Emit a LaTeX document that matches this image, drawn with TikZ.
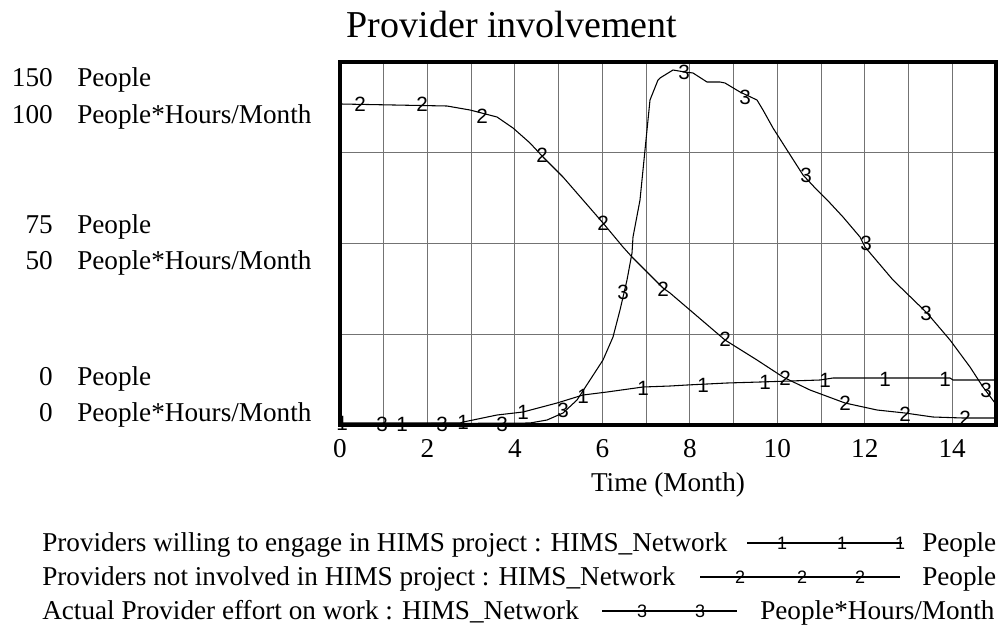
\documentclass[tikz,border=0pt]{standalone}
\usepackage{fontspec}
\setmainfont{Liberation Serif}
\newfontfamily\lblfont{Liberation Sans}
\begin{document}
\begin{tikzpicture}[x=0.75pt,y=-0.75pt,
  axtext/.style={font=\fontsize{20.4}{24}\selectfont, inner sep=0pt},
  curve/.style={line width=0.8pt, line join=round},
  gridline/.style={draw=black!55, line width=0.75pt},
  frameline/.style={draw=black, line width=2.8pt},
  clabel/.style={font=\lblfont\fontsize{15.5}{17}\selectfont, inner sep=0pt},
  leglabel/.style={font=\lblfont\fontsize{13.5}{15}\selectfont, inner sep=0pt}]
\useasboundingbox (0,0) rectangle (1006,629);

% title
\node[font=\fontsize{28.5}{32}\selectfont, anchor=base, inner sep=0pt] (title) at (512,37) {Provider involvement};

% grid
\foreach \m in {1,...,14} \draw[gridline] ({340+\m*43.73},62) -- ({340+\m*43.73},425);
\foreach \yy in {152.75,243.5,334.25} \draw[gridline] (340,\yy) -- (996,\yy);

% curve 1
\draw[curve] (341,423) -- (460,423) -- (463,422) -- (473,420) -- (497,415) -- (523,412) -- (557,403) -- (583,395) -- (607,392) -- (643,387) -- (670,386) -- (687,385) -- (727,383) -- (760,382) -- (820,380) -- (833,378) -- (950,378) -- (953,380) -- (995,380);
% curve 2
\draw[curve] (341,104) -- (447,106) -- (470,110) -- (497,117) -- (513,128) -- (530,143) -- (543,157) -- (563,177) -- (583,200) -- (603,223) -- (623,247) -- (632,257) -- (645,270) -- (663,288) -- (670,293) -- (725,340) -- (757,360) -- (783,377) -- (810,390) -- (845,403) -- (877,410) -- (905,413) -- (933,417) -- (963,418) -- (995,418);
% curve 3
\draw[curve] (341,424) -- (530,423) -- (547,420) -- (563,413) -- (577,400) -- (590,380) -- (603,360) -- (613,337) -- (620,310) -- (627,280) -- (632,253) -- (633,237) -- (640,200) -- (645,150) -- (650,100) -- (658,80) -- (660,78) -- (673,70) -- (685,72) -- (693,73) -- (707,82) -- (720,82) -- (725,83) -- (740,92) -- (757,100) -- (763,110) -- (773,128) -- (787,150) -- (803,175) -- (817,190) -- (830,203) -- (843,217) -- (860,237) -- (865,247) -- (893,280) -- (927,313) -- (950,340) -- (970,367) -- (983,387) -- (995,403);

% curve labels
\foreach \px/\py [count=\i] in {342/423,402/424,463/422,523/412,583/396,643/388,703/385,765/382,825/380,885/379,945/379}
  \node[clabel] (c1l\i) at (\px,\py) {1};
\foreach \px/\py [count=\i] in {360/104,422/104,482/116,542/155,603/223,663/289,725/339,785/378,845/403,905/414,965/418}
  \node[clabel] (c2l\i) at (\px,\py) {2};
\foreach \px/\py [count=\i] in {382/424,442/424,502/424,563/410,623/292,684/72,745/97,806/175,866/243,926/313,986/390}
  \node[clabel] (c3l\i) at (\px,\py) {3};

% frame
\draw[frameline] (340,62) rectangle (996,425);

% y axis labels
\node[axtext, anchor=base east] (y1n) at (53,86) {150};
\node[axtext, anchor=base west] (y1u) at (77,86) {People};
\node[axtext, anchor=base east] (y2n) at (53,123) {100};
\node[axtext, anchor=base west] (y2u) at (77,123) {People*Hours/Month};
\node[axtext, anchor=base east] (y3n) at (53,233) {75};
\node[axtext, anchor=base west] (y3u) at (77,233) {People};
\node[axtext, anchor=base east] (y4n) at (53,269) {50};
\node[axtext, anchor=base west] (y4u) at (77,269) {People*Hours/Month};
\node[axtext, anchor=base east] (y5n) at (53,385) {0};
\node[axtext, anchor=base west] (y5u) at (77,385) {People};
\node[axtext, anchor=base east] (y6n) at (53,421) {0};
\node[axtext, anchor=base west] (y6u) at (77,421) {People*Hours/Month};

% x axis labels
\foreach \m in {0,2,...,14}
  \node[axtext, anchor=base] (x\m) at ({340+\m*43.73},457) {\m};
\node[axtext, anchor=base] (xtitle) at (668,491) {Time (Month)};

% legend
\node[axtext, anchor=base west] (leg1) at (42,551) {Providers willing to engage in HIMS project : HIMS\_Network};
\draw[curve] (747,543) -- (902,543);
\foreach \px in {782,842,900} \node[leglabel] at (\px,543) {1};
\node[axtext, anchor=base west] (leg1u) at (922,551) {People};

\node[axtext, anchor=base west] (leg2) at (42,585) {Providers not involved in HIMS project : HIMS\_Network};
\draw[curve] (700,577) -- (900,577);
\foreach \px in {740,802,860} \node[leglabel] at (\px,577) {2};
\node[axtext, anchor=base west] (leg2u) at (922,585) {People};

\node[axtext, anchor=base west] (leg3) at (42,619) {Actual Provider effort on work : HIMS\_Network};
\draw[curve] (602,611) -- (737,611);
\foreach \px in {642,700} \node[leglabel] at (\px,611) {3};
\node[axtext, anchor=base west] (leg3u) at (760,619) {People*Hours/Month};
\end{tikzpicture}
\end{document}
